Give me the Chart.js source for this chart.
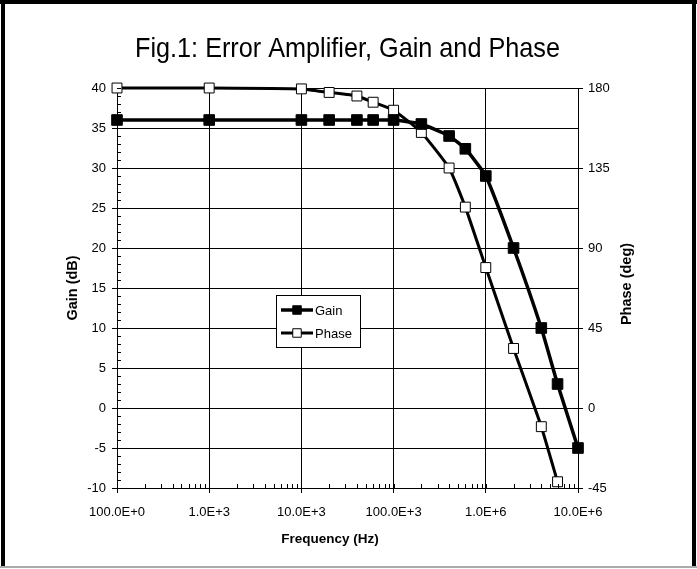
<!DOCTYPE html>
<html>
<head>
<meta charset="utf-8">
<script src="https://cdn.jsdelivr.net/npm/chart.js@4.4.0/dist/chart.umd.min.js"></script>
<style>
  body { margin: 0; background: #fff; }
  #wrap { position: relative; width: 697px; height: 569px; }
</style>
</head>
<body>
<div id="wrap"><canvas id="bodeChart"></canvas></div>
<script>
// Error amplifier bode data
const freqHz = [100, 1e3, 1e4, 2e4, 4e4, 6e4, 1e5, 2e5, 4e5, 6e5, 1e6, 2e6, 4e6, 6e6, 1e7];
const gainDb = [36, 36, 36, 36, 36, 36, 36, 35.5, 34, 32.4, 29, 20, 10, 3, -5];
const phaseFreqHz = [100, 1e3, 1e4, 2e4, 4e4, 6e4, 1e5, 2e5, 4e5, 6e5, 1e6, 2e6, 4e6, 6e6];
const phaseDeg = [180, 180, 179.5, 177.5, 175.5, 172, 167.5, 155, 135, 113, 79, 33.5, -10.5, -41.5];
const decadeTicks = [100, 1e3, 1e4, 1e5, 1e6, 1e7];
const legendLabels = ['Gain', 'Phase'];
const titleText = 'Fig.1: Error Amplifier, Gain and Phase';
const xTitle = 'Frequency (Hz)';
const yTitle = 'Gain (dB)';
const y2Title = 'Phase (deg)';

const FONT = "'Liberation Sans', Arial, sans-serif";

// 100 -> 100.0E+0, 1000 -> 1.0E+3 ...
function engLabel(v) {
  const p = Math.round(Math.log10(v));
  const e = Math.floor(p / 3) * 3;
  const m = v / Math.pow(10, e);
  return m.toFixed(1) + 'E+' + e;
}

const frameAndTicks = {
  id: 'frameAndTicks',
  beforeDraw(chart) {
    const ctx = chart.ctx;
    ctx.save();
    ctx.fillStyle = '#000';
    ctx.fillRect(0, 0, 697, 4);
    ctx.fillRect(1, 0, 4, 567);
    ctx.fillRect(692, 0, 4, 567);
    ctx.fillStyle = '#aaa';
    ctx.fillRect(0, 566, 697, 2);

    // title, condensed like the original narrow face
    const a = chart.chartArea;
    ctx.fillStyle = '#000';
    ctx.font = '28px ' + FONT;
    ctx.textAlign = 'center';
    ctx.textBaseline = 'alphabetic';
    const w = ctx.measureText(titleText).width;
    ctx.translate(347.5, 57);
    ctx.scale(425 / w, 1);
    ctx.fillText(titleText, 0, 0);
    ctx.restore();

    // axis titles
    ctx.save();
    ctx.fillStyle = '#000';
    ctx.textAlign = 'center';
    ctx.textBaseline = 'middle';
    ctx.font = 'bold 13.5px ' + FONT;
    ctx.fillText(xTitle, 330, 539);
    ctx.font = 'bold 14.5px ' + FONT;
    ctx.save();
    ctx.translate(73, (a.top + a.bottom) / 2);
    ctx.rotate(-Math.PI / 2);
    ctx.fillText(yTitle, 0, 0);
    ctx.restore();
    ctx.save();
    ctx.translate(627, (a.top + a.bottom) / 2 - 4);
    ctx.rotate(-Math.PI / 2);
    ctx.fillText(y2Title, 0, 0);
    ctx.restore();
    ctx.restore();
  },
  afterDatasetsDraw(chart) {
    const ctx = chart.ctx;
    const a = chart.chartArea;
    const x = chart.scales.x, y = chart.scales.y, y2 = chart.scales.y2;
    ctx.save();
    ctx.strokeStyle = '#000';
    ctx.lineWidth = 1;
    ctx.beginPath();
    // left axis: minor ticks every 1 dB, inner half of major ticks
    for (let v = y.min; v <= y.max; v++) {
      const py = Math.round(y.getPixelForValue(v)) + 0.5;
      ctx.moveTo(a.left, py);
      ctx.lineTo(a.left + 4, py);
    }
    // right axis inner half of ticks
    y2.ticks.forEach(t => {
      const py = Math.round(y2.getPixelForValue(t.value)) + 0.5;
      ctx.moveTo(a.right - 4, py);
      ctx.lineTo(a.right, py);
    });
    // bottom axis log minor ticks
    decadeTicks.forEach((d, i) => {
      const py = a.bottom;
      if (i < decadeTicks.length - 1) {
        for (let m = 2; m <= 9; m++) {
          const px = Math.round(x.getPixelForValue(m * d)) + 0.5;
          ctx.moveTo(px, py - 4);
          ctx.lineTo(px, py);
        }
      }
      const px = Math.round(x.getPixelForValue(d)) + 0.5;
      ctx.moveTo(px, py - 4);
      ctx.lineTo(px, py);
    });
    ctx.stroke();
    ctx.restore();
  },
  afterDraw(chart) {
    // legend box inside the plot
    const ctx = chart.ctx;
    const a = chart.chartArea;
    const bx = a.left + 159, by = a.top + 207, bw = 84, bh = 52;
    ctx.save();
    ctx.fillStyle = '#fff';
    ctx.fillRect(bx, by, bw, bh);
    ctx.strokeStyle = '#000';
    ctx.lineWidth = 1;
    ctx.strokeRect(bx + 0.5, by + 0.5, bw, bh);
    chart.data.datasets.forEach((ds, i) => {
      const ry = by + 15 + i * 23;
      ctx.strokeStyle = '#000';
      ctx.lineWidth = ds.borderWidth;
      ctx.beginPath();
      ctx.moveTo(bx + 5, ry);
      ctx.lineTo(bx + 37, ry);
      ctx.stroke();
      ctx.fillStyle = ds.pointBackgroundColor;
      ctx.strokeStyle = ds.pointBorderColor;
      ctx.lineWidth = ds.pointBorderWidth;
      Chart.helpers.drawPoint(ctx, {pointStyle: 'rect', radius: 6, rotation: 0, borderWidth: 1}, bx + 21, ry);
      ctx.fillStyle = '#000';
      ctx.font = '13px ' + FONT;
      ctx.textBaseline = 'middle';
      ctx.fillText(legendLabels[i], bx + 39, ry + 1);
    });
    ctx.restore();
  }
};

const tickFont = { family: FONT, size: 13 };

const bodeChart = new Chart(document.getElementById('bodeChart'), {
  type: 'line',
  data: {
    datasets: [{
      label: legendLabels[0],
      data: freqHz.map((f, i) => ({x: f, y: gainDb[i]})),
      yAxisID: 'y',
      borderColor: '#000',
      borderWidth: 3.5,
      pointStyle: 'rect',
      pointRadius: 7.5,
      pointBackgroundColor: '#000',
      pointBorderColor: '#000',
      pointBorderWidth: 1,
      tension: 0.15,
      clip: false
    }, {
      label: legendLabels[1],
      data: phaseFreqHz.map((f, i) => ({x: f, y: phaseDeg[i]})),
      yAxisID: 'y2',
      borderColor: '#000',
      borderWidth: 3,
      pointStyle: 'rect',
      pointRadius: 7,
      pointBackgroundColor: '#fff',
      pointBorderColor: '#000',
      pointBorderWidth: 1,
      tension: 0.15,
      clip: false
    }]
  },
  options: {
    responsive: true,
    maintainAspectRatio: false,
    animation: false,
    layout: { padding: { left: 60, right: 60, top: 88, bottom: 20 } },
    plugins: {
      legend: { display: false },
      tooltip: { enabled: false },
      title: { display: false }
    },
    scales: {
      x: {
        type: 'logarithmic',
        min: 100,
        max: 1e7,
        afterBuildTicks: s => { s.ticks = decadeTicks.map(v => ({value: v})); },
        afterFit: s => { s.height = 61; },
        ticks: { color: '#000', font: tickFont, padding: 12, maxRotation: 0, autoSkip: false, callback: v => engLabel(v) },
        grid: { color: '#000', lineWidth: 1, tickLength: 5 },
        border: { color: '#000', width: 1 }
      },
      y: {
        position: 'left',
        min: -10,
        max: 40,
        afterFit: s => { s.width = 57; },
        ticks: { stepSize: 5, color: '#000', font: tickFont, padding: 6 },
        grid: { color: '#000', lineWidth: 1, tickLength: 5 },
        border: { color: '#000', width: 1 }
      },
      y2: {
        position: 'right',
        min: -45,
        max: 180,
        afterFit: s => { s.width = 59; },
        ticks: { stepSize: 45, color: '#000', font: tickFont, padding: 5 },
        grid: { drawOnChartArea: false, color: '#000', lineWidth: 1, tickLength: 5 },
        border: { color: '#000', width: 1 }
      }
    }
  },
  plugins: [frameAndTicks]
});
</script>
</body>
</html>
